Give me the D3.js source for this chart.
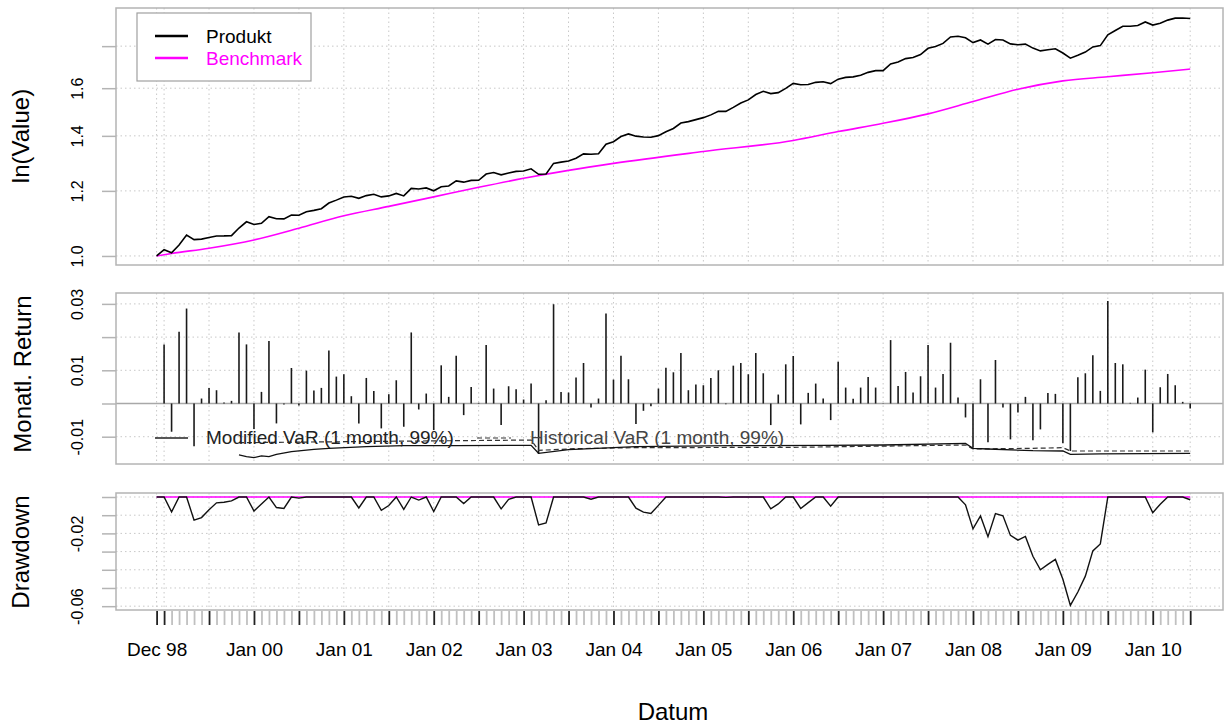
<!DOCTYPE html>
<html>
<head>
<meta charset="utf-8">
<script src="https://cdn.jsdelivr.net/npm/d3@7"></script>
<style>
  body { margin: 0; background: #fff; }
  text { font-family: "Liberation Sans", Arial, Helvetica, sans-serif; }
</style>
</head>
<body>
<div id="chart"></div>
<script>
// months Dec 98 .. Jun 10 (139 points), index 0 = Dec 98
const months = d3.timeMonth.range(new Date(1998, 11, 1), new Date(2010, 6, 1))

// wealth index of the product
const produkt = [
  1.0000, 1.0178, 1.0091, 1.0310, 1.0605, 1.0468, 1.0483, 1.0533, 1.0575, 1.0578,
  1.0587, 1.0813, 1.1005, 1.0921, 1.0959, 1.1165, 1.1098, 1.1095, 1.1213, 1.1206,
  1.1318, 1.1362, 1.1416, 1.1599, 1.1693, 1.1796, 1.1822, 1.1752, 1.1842, 1.1887,
  1.1799, 1.1832, 1.1915, 1.1832, 1.2085, 1.2063, 1.2100, 1.2003, 1.2141, 1.2165,
  1.2340, 1.2297, 1.2359, 1.2361, 1.2578, 1.2635, 1.2553, 1.2619, 1.2673, 1.2688,
  1.2765, 1.2571, 1.2583, 1.2960, 1.3006, 1.3049, 1.3151, 1.3311, 1.3295, 1.3315,
  1.3675, 1.3774, 1.3972, 1.4075, 1.3988, 1.3957, 1.3946, 1.4009, 1.4159, 1.4293,
  1.4511, 1.4569, 1.4652, 1.4733, 1.4847, 1.4996, 1.4993, 1.5163, 1.5348, 1.5484,
  1.5719, 1.5863, 1.5760, 1.5803, 1.5989, 1.6217, 1.6155, 1.6167, 1.6264, 1.6289,
  1.6208, 1.6411, 1.6491, 1.6514, 1.6593, 1.6726, 1.6807, 1.6807, 1.7127, 1.7218,
  1.7383, 1.7440, 1.7584, 1.7893, 1.7979, 1.8139, 1.8471, 1.8504, 1.8426, 1.8181,
  1.8314, 1.8100, 1.8336, 1.8314, 1.8116, 1.8067, 1.8103, 1.7902, 1.7762, 1.7819,
  1.7871, 1.7656, 1.7404, 1.7542, 1.7702, 1.7959, 1.8027, 1.8584, 1.8810, 1.9031,
  1.9035, 1.9069, 1.9263, 1.9096, 1.9190, 1.9361, 1.9468, 1.9478, 1.9449
]

// benchmark (smooth curve) read at these month indices
const benchIdx = [0, 2, 7, 13, 19, 25, 31, 37, 43, 49, 55, 61, 73, 85, 91, 97, 103, 109, 115, 121, 127, 133, 138]
const benchVal = [1.000, 1.007, 1.022, 1.046, 1.081, 1.119, 1.149, 1.180, 1.212, 1.243, 1.271, 1.296,
  1.340, 1.382, 1.417, 1.450, 1.489, 1.541, 1.595, 1.633, 1.652, 1.671, 1.688]

// monthly returns Jan 99 .. Jun 10 (index 1..138)
const returns = [
  0.0178, -0.0085, 0.0216, 0.0286, -0.0129, 0.0015, 0.0047, 0.0040, 0.0003, 0.0008,
  0.0214, 0.0178, -0.0077, 0.0035, 0.0188, -0.0060, -0.0003, 0.0107, -0.0006, 0.0099,
  0.0039, 0.0047, 0.0160, 0.0081, 0.0088, 0.0022, -0.0060, 0.0077, 0.0038, -0.0075,
  0.0028, 0.0070, -0.0070, 0.0214, -0.0018, 0.0030, -0.0080, 0.0115, 0.0020, 0.0144,
  -0.0035, 0.0050, 0.0002, 0.0176, 0.0045, -0.0065, 0.0052, 0.0043, 0.0012, 0.0060,
  -0.0152, 0.0010, 0.0299, 0.0035, 0.0033, 0.0078, 0.0122, -0.0012, 0.0015, 0.0271,
  0.0072, 0.0144, 0.0073, -0.0062, -0.0022, -0.0008, 0.0045, 0.0108, 0.0094, 0.0152,
  0.0040, 0.0057, 0.0055, 0.0077, 0.0100, -0.0002, 0.0114, 0.0122, 0.0088, 0.0152,
  0.0091, -0.0065, 0.0027, 0.0118, 0.0143, -0.0063, 0.0032, 0.0060, 0.0015, -0.0050,
  0.0126, 0.0048, 0.0014, 0.0048, 0.0080, 0.0048, 0.0001, 0.0191, 0.0053, 0.0095,
  0.0033, 0.0082, 0.0176, 0.0048, 0.0089, 0.0183, 0.0018, -0.0042, -0.0133, 0.0073,
  -0.0117, 0.0131, -0.0012, -0.0108, -0.0027, 0.0020, -0.0111, -0.0078, 0.0032, 0.0029,
  -0.0120, -0.0143, 0.0079, 0.0091, 0.0145, 0.0038, 0.0309, 0.0122, 0.0118, 0.0002,
  0.0018, 0.0102, -0.0087, 0.0049, 0.0089, 0.0055, 0.0005, -0.0015
]

// drawdown of the product, Dec 98 .. Jun 10
const drawdown = [
  0,
  0, -0.0082, 0, 0, -0.0127, -0.0113, -0.0070, -0.0032, -0.0029, -0.0021,
  0, 0, -0.0077, -0.0038, 0, -0.0058, -0.0063, 0, -0.0006, 0,
  0, 0, 0, 0, 0, 0, -0.0060, 0, 0, -0.0073,
  -0.0047, 0, -0.0068, 0, -0.0017, 0, -0.0080, 0, 0, 0,
  -0.0036, 0, 0, 0, 0, -0.0065, -0.0013, 0, 0, 0,
  -0.0153, -0.0143, 0, 0, 0, 0, 0, -0.0012, 0, 0,
  0, 0, 0, -0.0061, -0.0083, -0.0091, -0.0046, 0, 0, 0,
  0, 0, 0, 0, 0, -0.0002, 0, 0, 0, 0,
  0, -0.0065, -0.0038, 0, 0, -0.0063, -0.0031, 0, 0, -0.0050,
  0, 0, 0, 0, 0, 0, 0, 0, 0, 0,
  0, 0, 0, 0, 0, 0, 0, -0.0043, -0.0175, -0.0104,
  -0.0218, -0.0091, -0.0103, -0.0211, -0.0237, -0.0217, -0.0326, -0.0400, -0.0370, -0.0343,
  -0.0452, -0.0596, -0.0522, -0.0435, -0.0296, -0.0258, 0, 0, 0, 0,
  0, 0, -0.0086, -0.0040, 0, 0, 0, -0.0015
]

// VaR lines (month index, value)
const modVarIdx = [11, 12, 13, 14, 15, 16, 18, 21, 23, 28, 33, 40, 50, 51, 55, 64, 77, 89, 97, 108, 109, 111, 117, 121, 122, 126, 138]
const modVarVal = [-0.0155, -0.0160, -0.0163, -0.0158, -0.0160, -0.0153, -0.0145, -0.0138, -0.0135, -0.0130, -0.0127, -0.0127,
  -0.0126, -0.0150, -0.0139, -0.0130, -0.0127, -0.0126, -0.0125, -0.0120, -0.0135, -0.0137, -0.0142, -0.0143, -0.0153, -0.0152, -0.0150]
const histVarIdx = [11, 30, 45, 50, 51, 56, 64, 85, 108, 109, 117, 121, 122, 138]
const histVarVal = [-0.0118, -0.0114, -0.0111, -0.0110, -0.0141, -0.0136, -0.0133, -0.0132, -0.0125, -0.0137, -0.0135, -0.0133, -0.0143, -0.0143]

// tick values
const valTicks = [1.0, 1.2, 1.4, 1.6, 1.8]
const valLabels = [1.0, 1.2, 1.4, 1.6]
const retTicks = [-0.01, 0, 0.01, 0.02, 0.03]
const retLabels = [-0.01, 0.01, 0.03]
const ddTicks = [0, -0.01, -0.02, -0.03, -0.04, -0.05, -0.06]
const ddLabels = [-0.02, -0.06]

const W = 1226, H = 727
const LEFT = 116, RIGHT = 1223
const GRID = "#c8c8c8", FRAME = "#b4b4b4", MAG = "#ff00ff"

const svg = d3.select("#chart").append("svg")
  .attr("width", W).attr("height", H)

const x = d3.scaleLinear().domain([0, 138]).range([156.6, 1190.2])
const yVal = d3.scaleLog().domain([0.975, 2.003]).range([265, 8])
const yRet = d3.scaleLinear().domain([-0.01822, 0.03328]).range([464, 293])
const yDd = d3.scaleLinear().domain([-0.0621, 0.0022]).range([610, 493])

// major ticks: first, last and every Jan / Jul
const isMajor = i => i === 0 || i === 138 || months[i].getMonth() % 6 === 0
const majorIdx = d3.range(139).filter(isMajor)
const fmtMonth = d3.timeFormat("%b %y")
const isLabel = i => i === 0 || (months[i].getMonth() === 0 && months[i].getFullYear() > 1999)

function panel(y, ticks, labels, fmt) {
  const top = y.range()[1], bottom = y.range()[0]
  const g = svg.append("g")
  // grid
  g.selectAll(".hg").data(ticks).enter().append("line")
    .attr("x1", LEFT).attr("x2", RIGHT)
    .attr("y1", d => y(d)).attr("y2", d => y(d))
    .attr("stroke", GRID).attr("stroke-dasharray", "1.5,3")
  g.selectAll(".vg").data(majorIdx).enter().append("line")
    .attr("x1", d => x(d)).attr("x2", d => x(d))
    .attr("y1", top).attr("y2", bottom)
    .attr("stroke", GRID).attr("stroke-dasharray", "1.5,3")
  // y axis
  const ax = svg.append("g")
    .attr("transform", `translate(${LEFT},0)`)
    .call(d3.axisLeft(y).tickValues(ticks).tickSize(14)
      .tickFormat(d => labels.includes(d) ? fmt(d) : ""))
  ax.select(".domain").remove()
  ax.selectAll(".tick line").attr("stroke", FRAME).attr("stroke-width", 1.5)
  ax.selectAll(".tick text")
    .attr("x", 0).attr("y", -33).attr("dy", 0)
    .attr("text-anchor", "middle")
    .attr("transform", "rotate(-90)")
    .attr("font-size", 16).attr("fill", "#000")
  return g
}

const frame = (y) => svg.append("rect")
  .attr("x", LEFT).attr("y", y.range()[1])
  .attr("width", RIGHT - LEFT).attr("height", y.range()[0] - y.range()[1])
  .attr("fill", "none").attr("stroke", FRAME).attr("stroke-width", 1.5)

// PANEL 1: cumulative value
panel(yVal, valTicks, valLabels, d => d.toFixed(1))
svg.append("path")
  .datum(benchIdx.map((d, i) => [d, benchVal[i]]))
  .attr("d", d3.line().curve(d3.curveMonotoneX).x(d => x(d[0])).y(d => yVal(d[1])))
  .attr("fill", "none").attr("stroke", MAG).attr("stroke-width", 1.6)
svg.append("path")
  .datum(produkt)
  .attr("d", d3.line().x((d, i) => x(i)).y(d => yVal(d)))
  .attr("fill", "none").attr("stroke", "#000").attr("stroke-width", 1.6)
frame(yVal)

// legend
svg.append("rect").attr("x", 137).attr("y", 13).attr("width", 174).attr("height", 68)
  .attr("fill", "#fff").attr("stroke", "#a0a0a0").attr("stroke-width", 1.2)
const leg = [["Produkt", "#000", 36], ["Benchmark", MAG, 58]]
leg.forEach(([name, col, ly]) => {
  svg.append("line").attr("x1", 155).attr("x2", 188).attr("y1", ly).attr("y2", ly)
    .attr("stroke", col).attr("stroke-width", 2.5)
  svg.append("text").attr("x", 206).attr("y", ly + 6.5)
    .attr("font-size", 19).attr("fill", col).text(name)
})

// PANEL 2: monthly returns with VaR
panel(yRet, retTicks, retLabels, d => d.toFixed(2))
svg.append("line").attr("x1", LEFT).attr("x2", RIGHT)
  .attr("y1", yRet(0)).attr("y2", yRet(0))
  .attr("stroke", "#a8a8a8").attr("stroke-width", 1.5)
svg.append("g").selectAll("line").data(returns).enter().append("line")
  .attr("x1", (d, i) => x(i + 1)).attr("x2", (d, i) => x(i + 1))
  .attr("y1", yRet(0)).attr("y2", d => yRet(d))
  .attr("stroke", "#1a1a1a").attr("stroke-width", 1.6)
svg.append("path")
  .datum(histVarIdx.map((d, i) => [d, histVarVal[i]]))
  .attr("d", d3.line().x(d => x(d[0])).y(d => yRet(d[1])))
  .attr("fill", "none").attr("stroke", "#333").attr("stroke-width", 1.2)
  .attr("stroke-dasharray", "5,3")
svg.append("path")
  .datum(modVarIdx.map((d, i) => [d, modVarVal[i]]))
  .attr("d", d3.line().x(d => x(d[0])).y(d => yRet(d[1])))
  .attr("fill", "none").attr("stroke", "#111").attr("stroke-width", 1.3)
svg.append("line").attr("x1", 155).attr("x2", 188).attr("y1", 438).attr("y2", 438)
  .attr("stroke", "#222").attr("stroke-width", 1.3)
svg.append("line").attr("x1", 477).attr("x2", 511).attr("y1", 438).attr("y2", 438)
  .attr("stroke", "#333").attr("stroke-width", 1.2).attr("stroke-dasharray", "5,3")
svg.append("text").attr("x", 206).attr("y", 444).attr("font-size", 19)
  .attr("fill", "#222").text("Modified VaR (1 month, 99%)")
svg.append("text").attr("x", 530).attr("y", 444).attr("font-size", 19)
  .attr("fill", "#444").text("Historical VaR (1 month, 99%)")
frame(yRet)

// PANEL 3: drawdown
panel(yDd, ddTicks, ddLabels, d => d.toFixed(2))
svg.append("line").attr("x1", x(0)).attr("x2", x(138))
  .attr("y1", yDd(0)).attr("y2", yDd(0))
  .attr("stroke", MAG).attr("stroke-width", 1.6)
svg.append("path")
  .datum(drawdown)
  .attr("d", d3.line().x((d, i) => x(i)).y(d => yDd(d)))
  .attr("fill", "none").attr("stroke", "#111").attr("stroke-width", 1.4)
frame(yDd)

// x axis
const xa = svg.append("g").attr("transform", "translate(0,611)")
  .call(d3.axisBottom(x).tickValues(d3.range(139)).tickSize(14)
    .tickFormat(i => isLabel(i) ? fmtMonth(months[i]) : ""))
xa.select(".domain").remove()
xa.selectAll(".tick line")
  .attr("stroke", i => isMajor(i) ? "#222" : "#c0c0c0")
  .attr("stroke-width", 1.8)
xa.selectAll(".tick text")
  .attr("y", 45).attr("dy", 0)
  .attr("font-size", 19).attr("fill", "#000")

// axis titles
const title = (txt, cx, cy, rot) => svg.append("text")
  .attr("transform", `translate(${cx},${cy})` + (rot ? " rotate(-90)" : ""))
  .attr("text-anchor", "middle").attr("font-size", 24).attr("fill", "#000").text(txt)
title("ln(Value)", 29, 136, true)
title("Monatl. Return", 31, 374, true)
title("Drawdown", 29, 552, true)
title("Datum", 673, 720, false)
</script>
</body>
</html>
